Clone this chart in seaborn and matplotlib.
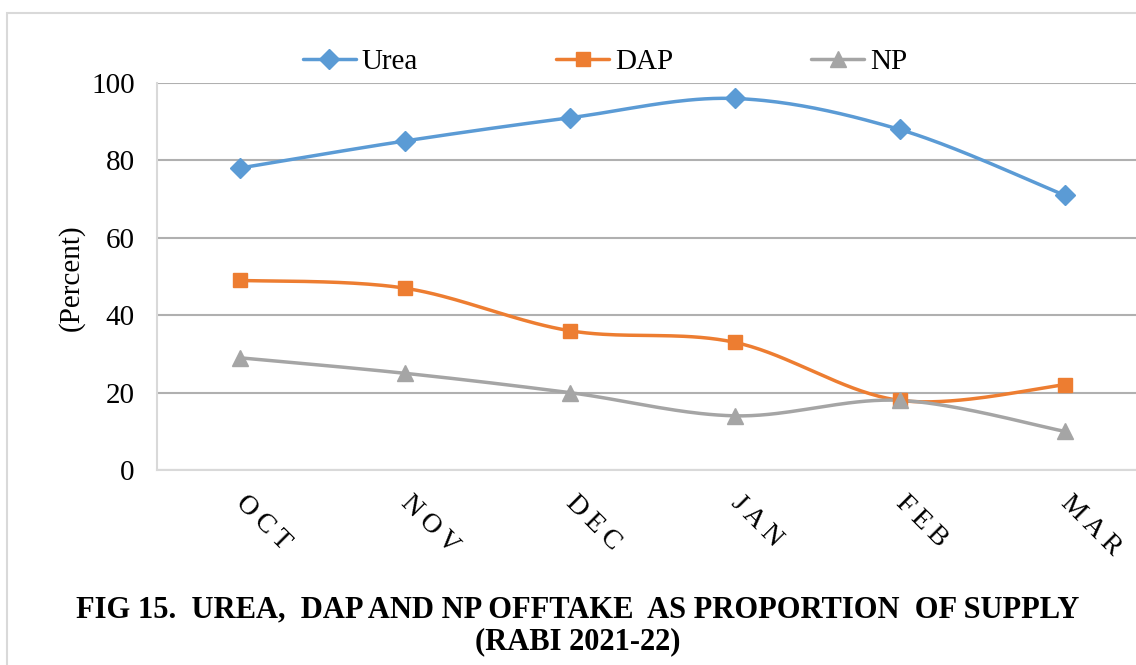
import numpy as np
import pandas as pd
import matplotlib
matplotlib.use("Agg")
import matplotlib.pyplot as plt
import seaborn as sns
from matplotlib.patches import Rectangle
from matplotlib.lines import Line2D

# values
months = ["OCT", "NOV", "DEC", "JAN", "FEB", "MAR"]
urea = [78, 85, 91, 96, 88, 71]
dap = [49, 47, 36, 33, 18, 22]
np_ = [29, 25, 20, 14, 18, 10]

series = ["Urea", "DAP", "NP"]
colors = {"Urea": "#5B9BD5", "DAP": "#ED7D31", "NP": "#A5A5A5"}
markers = {"Urea": "D", "DAP": "s", "NP": "^"}
msizes = {"Urea": 10.5, "DAP": 10.5, "NP": 12}

df = pd.DataFrame({"month": months, "Urea": urea, "DAP": dap, "NP": np_})
df["pos"] = np.arange(len(months))
long = df.melt(id_vars=["month", "pos"], value_vars=series,
               var_name="series", value_name="pct")


def smooth(xs, ys, n=40):
    # Excel style smoothed line: bezier through the points (catmull-rom, 1/6)
    pts = np.column_stack([np.asarray(xs, float), np.asarray(ys, float)])
    out = []
    for i in range(len(pts) - 1):
        p0 = pts[max(i - 1, 0)]
        p1 = pts[i]
        p2 = pts[i + 1]
        p3 = pts[min(i + 2, len(pts) - 1)]
        c1 = p1 + (p2 - p0) / 6
        c2 = p2 - (p3 - p1) / 6
        t = np.linspace(0, 1, n)[:, None]
        seg = ((1 - t) ** 3) * p1 + 3 * ((1 - t) ** 2) * t * c1 \
            + 3 * (1 - t) * t ** 2 * c2 + t ** 3 * p2
        out.append(seg if i == 0 else seg[1:])
    seg = np.vstack(out)
    return seg[:, 0], seg[:, 1]


sns.set_style("white")
plt.rcParams["font.family"] = ["Liberation Serif", "DejaVu Serif"]
for key in ["text.color", "axes.labelcolor", "xtick.color", "ytick.color"]:
    plt.rcParams[key] = "black"

fig = plt.figure(figsize=(11.36, 6.65), dpi=100)
ax = fig.add_axes([157 / 1136, 1 - 470 / 665, 990 / 1136, 387 / 665])

# chart area border (cropped on right / bottom in the reference)
fig.patches.append(Rectangle((7 / 1136, -0.1), 1.2, 1.1 - 13 / 665,
                             transform=fig.transFigure, fill=False,
                             edgecolor="#D9D9D9", linewidth=1.5, zorder=0))

for s in series:
    sub = long[long["series"] == s]
    sx, sy = smooth(sub["pos"], sub["pct"])
    curve = pd.DataFrame({"x": sx, "y": sy})
    sns.lineplot(data=curve, x="x", y="y", ax=ax, color=colors[s],
                 linewidth=2.5, sort=False, estimator=None, zorder=3)
    ax.plot(sub["pos"], sub["pct"], linestyle="none", marker=markers[s],
            markersize=msizes[s], color=colors[s], zorder=4)

ax.set_xlim(-0.5, len(months) - 0.5)
ax.set_ylim(0, 100)
ax.set_yticks(range(0, 101, 20))
ax.yaxis.grid(True, color="#B0B0B0", linewidth=1.5)
ax.set_axisbelow(True)
for side in ["top", "right"]:
    ax.spines[side].set_visible(False)
for side in ["left", "bottom"]:
    ax.spines[side].set_color("#D9D9D9")
    ax.spines[side].set_linewidth(1.5)

ax.set_xticks(range(len(months)))
ax.set_xticklabels(["\u2009".join(m) for m in months], rotation=-45,
                   ha="left", va="center", rotation_mode="anchor",
                   fontsize=20)
ax.tick_params(axis="x", length=0, pad=21)
ax.tick_params(axis="y", length=0, pad=16, labelsize=21)
ax.set_xlabel("")
ax.set_ylabel("")
fig.text(71 / 1136, 1 - 278 / 665, "(Percent)", rotation=90,
         ha="center", va="center", fontsize=21)

# legend above the plot
handles = [Line2D([], [], color=colors[s], marker=markers[s],
                  markersize=msizes[s], linewidth=2.5) for s in series]
fig.legend(handles, series, loc="center", bbox_to_anchor=(605 / 1136, 1 - 62 / 665),
           ncol=3, frameon=False, fontsize=21, handlelength=1.8,
           columnspacing=4.75, handletextpad=0.2)

fig.text(578 / 1136, 1 - 610 / 665,
         "FIG 15.  UREA,  DAP AND NP OFFTAKE  AS PROPORTION  OF SUPPLY",
         ha="center", va="center", fontsize=22, fontweight="bold")
fig.text(578 / 1136, 1 - 642 / 665, "(RABI 2021-22)",
         ha="center", va="center", fontsize=22, fontweight="bold")

fig.savefig("out.png", dpi=100)
